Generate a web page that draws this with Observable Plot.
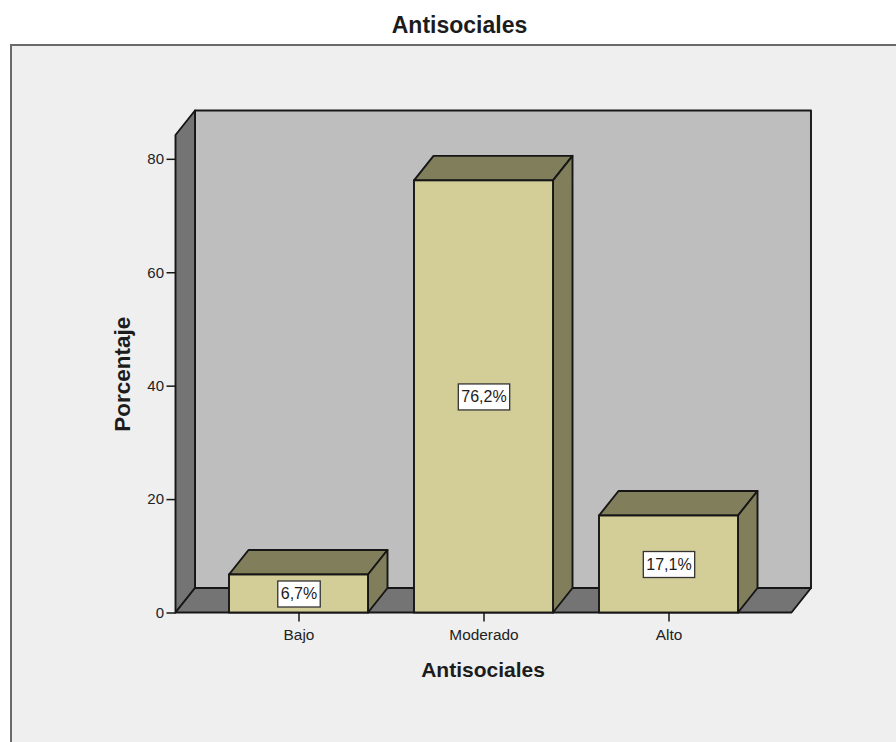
<!DOCTYPE html>
<html>
<head>
<meta charset="utf-8">
<script src="https://cdn.jsdelivr.net/npm/d3@7"></script>
<script src="https://cdn.jsdelivr.net/npm/@observablehq/plot@0.6"></script>
<style>
  html, body { margin: 0; padding: 0; background: #fff; overflow: hidden; }
  body { width: 896px; height: 742px; position: relative; font-family: "Liberation Sans", Arial, sans-serif; }
  #title { position: absolute; left: 0; width: 919px; top: 11px; text-align: center; font-size: 23px; font-weight: bold; color: #1c1c1c; line-height: 28px; }
  #panel { position: absolute; left: 10px; top: 44px; width: 886px; height: 698px; box-sizing: border-box; background: #efefef; border-top: 2px solid #6a6a6a; border-left: 2px solid #6a6a6a; overflow: hidden; }
  #panel svg { display: block; background: transparent; }
</style>
</head>
<body>
<div id="title">Antisociales</div>
<div id="panel"></div>
<script>
const categories = ["Bajo", "Moderado", "Alto"];
const percentages = [6.7, 76.2, 17.1];
const valueLabels = ["6,7%", "76,2%", "17,1%"];
const yTicks = [0, 20, 40, 60, 80];
const rows = categories.map((c, i) => ({category: c, value: percentages[i], label: valueLabels[i]}));

const depthX = 19.5, depthY = -24.5;
const edge = "#161616", edgeW = 1.9;
const svgNS = "http://www.w3.org/2000/svg";

function poly(points, fill) {
  const p = document.createElementNS(svgNS, "polygon");
  p.setAttribute("points", points.map(q => q.join(",")).join(" "));
  p.setAttribute("fill", fill);
  p.setAttribute("stroke", edge);
  p.setAttribute("stroke-width", edgeW);
  p.setAttribute("stroke-linejoin", "round");
  return p;
}

function walls(index, scales, values, dim) {
  const g = document.createElementNS(svgNS, "g");
  const l = dim.marginLeft, r = dim.width - dim.marginRight;
  const t = dim.marginTop, b = dim.height - dim.marginBottom;
  const dx = depthX, dy = depthY;
  g.appendChild(poly([[l + dx, t + dy], [r + dx, t + dy], [r + dx, b + dy], [l + dx, b + dy]], "#bebebe"));
  g.appendChild(poly([[l, t], [l + dx, t + dy], [l + dx, b + dy], [l, b]], "#747474"));
  g.appendChild(poly([[l, b], [l + dx, b + dy], [r + dx, b + dy], [r, b]], "#747474"));
  return g;
}

function bar3d(index, scales, values, dim, ctx, next) {
  const g = next(index, scales, values, dim, ctx);
  for (const rect of Array.from(g.querySelectorAll("rect"))) {
    const x = +rect.getAttribute("x"), y = +rect.getAttribute("y");
    const w = +rect.getAttribute("width"), h = +rect.getAttribute("height");
    const dx = depthX, dy = depthY;
    g.insertBefore(poly([[x, y], [x + dx, y + dy], [x + w + dx, y + dy], [x + w, y]], "#817e5c"), rect);
    g.insertBefore(poly([[x + w, y], [x + w + dx, y + dy], [x + w + dx, y + h + dy], [x + w, y + h]], "#817e5c"), rect);
  }
  return g;
}

function boxedLabels(index, scales, values, dim, ctx, next) {
  const g = next(index, scales, values, dim, ctx);
  const measure = document.createElement("canvas").getContext("2d");
  measure.font = "16px 'Liberation Sans'";
  for (const text of Array.from(g.querySelectorAll("text"))) {
    const w = measure.measureText(text.textContent).width + 6, h = 26;
    const box = document.createElementNS(svgNS, "rect");
    const tf = text.getAttribute("transform");
    if (tf) box.setAttribute("transform", tf);
    box.setAttribute("x", (+text.getAttribute("x") || 0) - w / 2);
    box.setAttribute("y", (+text.getAttribute("y") || 0) - h / 2);
    box.setAttribute("width", w);
    box.setAttribute("height", h);
    box.setAttribute("fill", "#fff");
    box.setAttribute("stroke", "#333");
    box.setAttribute("stroke-width", 1.3);
    g.insertBefore(box, text);
  }
  return g;
}

const chart = Plot.plot({
  width: 884,
  height: 696,
  marginLeft: 163.5,
  marginRight: 104.5,
  marginTop: 89,
  marginBottom: 129.5,
  style: {fontFamily: "'Liberation Sans', Arial, sans-serif", background: "transparent", overflow: "visible"},
  x: {domain: categories, paddingInner: 0.25, paddingOuter: 0.286, label: null},
  y: {domain: [0, 84.2], label: null},
  marks: [
    walls,
    Plot.barY(rows, {x: "category", y: "value", fill: "#d3ce97", stroke: edge, strokeWidth: edgeW, render: bar3d}),
    Plot.text(rows, {x: "category", y: d => d.value / 2, text: "label", fontSize: 16, fill: "#1c1c1c", render: boxedLabels}),
    Plot.axisY({ticks: yTicks, tickFormat: d => String(d), tickSize: 9, tickPadding: 3, fontSize: 15, color: "#222", stroke: edge, strokeWidth: 1.5, label: null}),
    Plot.axisX({tickSize: 9, tickPadding: 7, fontSize: 15.4, color: "#222", stroke: edge, strokeWidth: 1.5, label: null}),
    Plot.text(["Antisociales"], {frameAnchor: "bottom", dx: -1, dy: 64, fontSize: 21, fontWeight: "bold", fill: "#1c1c1c"}),
    Plot.text(["Porcentaje"], {frameAnchor: "left", dx: -53, rotate: -90, textAnchor: "middle", fontSize: 22.5, fontWeight: "bold", fill: "#1c1c1c"})
  ]
});
document.getElementById("panel").appendChild(chart);
</script>
</body>
</html>
